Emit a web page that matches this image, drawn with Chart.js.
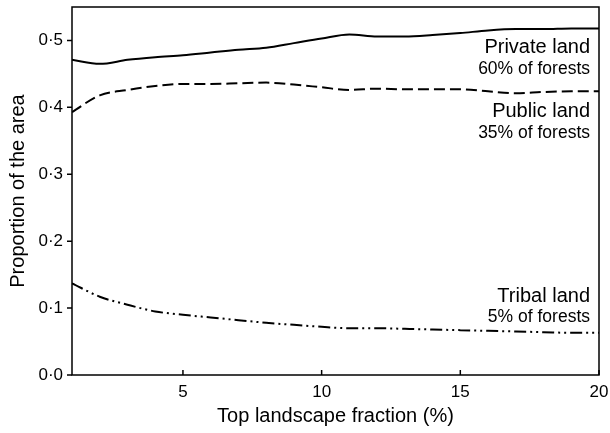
<!DOCTYPE html>
<html>
<head>
<meta charset="utf-8">
<script src="https://cdn.jsdelivr.net/npm/chart.js@4/dist/chart.umd.min.js"></script>
<style>
  html, body { margin: 0; padding: 0; background: #fff; }
  #wrap { width: 610px; height: 433px; }
</style>
</head>
<body>
<div id="wrap"><canvas id="chart" width="610" height="433"></canvas></div>
<script>
// values
const xValues = [1, 2, 3, 4, 5, 6, 7, 8, 9, 10, 11, 12, 13, 14, 15, 16, 17, 18, 19, 20];
const privateLand = [0.471, 0.465, 0.471, 0.475, 0.478, 0.482, 0.486, 0.489, 0.496, 0.503,
                     0.509, 0.506, 0.506, 0.508, 0.511, 0.515, 0.517, 0.517, 0.518, 0.518];
const publicLand = [0.393, 0.418, 0.426, 0.432, 0.435, 0.435, 0.436, 0.437, 0.434, 0.430,
                    0.426, 0.428, 0.427, 0.427, 0.427, 0.424, 0.421, 0.423, 0.424, 0.424];
const tribalLand = [0.137, 0.117, 0.105, 0.095, 0.090, 0.086, 0.082, 0.078, 0.075, 0.072,
                    0.070, 0.070, 0.069, 0.068, 0.067, 0.066, 0.065, 0.064, 0.063, 0.063];
const xTicks = [5, 10, 15, 20];
const yTicks = [0, 0.1, 0.2, 0.3, 0.4, 0.5];

const seriesNames = ['Private land', 'Public land', 'Tribal land'];
const seriesShares = ['60% of forests', '35% of forests', '5% of forests'];

const FONT = "'Liberation Sans', Arial, sans-serif";

function toPoints(ys) {
    return xValues.map((x, i) => ({ x: x, y: ys[i] }));
}

// frame, inward x ticks, outward y ticks and the line labels
const framePlugin = {
    id: 'frame',
    afterDraw(chart) {
        const { ctx, chartArea: a, scales } = chart;
        ctx.save();
        ctx.strokeStyle = '#000';
        ctx.lineWidth = 1.5;
        ctx.strokeRect(a.left, a.top, a.right - a.left, a.bottom - a.top);
        ctx.beginPath();
        xTicks.forEach(v => {
            const px = scales.x.getPixelForValue(v);
            ctx.moveTo(px, a.bottom);
            ctx.lineTo(px, a.bottom - 5);
        });
        yTicks.forEach(v => {
            const py = scales.y.getPixelForValue(v);
            ctx.moveTo(a.left, py);
            ctx.lineTo(a.left - 5, py);
        });
        ctx.stroke();

        ctx.fillStyle = '#000';
        ctx.textAlign = 'right';
        ctx.textBaseline = 'alphabetic';
        const right = a.right - 9;
        const nameY = [53, 117, 302];
        const shareY = [74, 138, 322];
        seriesNames.forEach((name, i) => {
            ctx.font = '20px ' + FONT;
            ctx.fillText(name, right, nameY[i]);
            ctx.font = '17.5px ' + FONT;
            ctx.fillText(seriesShares[i], right, shareY[i]);
        });
        ctx.restore();
    }
};

const lineStyle = {
    borderColor: '#000',
    borderWidth: 2,
    pointRadius: 0,
    fill: false,
    cubicInterpolationMode: 'monotone'
};

new Chart(document.getElementById('chart'), {
    type: 'line',
    data: {
        datasets: [
            Object.assign({ label: seriesNames[0], data: toPoints(privateLand) }, lineStyle),
            Object.assign({ label: seriesNames[1], data: toPoints(publicLand), borderDash: [11, 5] }, lineStyle),
            Object.assign({ label: seriesNames[2], data: toPoints(tribalLand), borderDash: [12, 4, 2, 4, 2, 4] }, lineStyle)
        ]
    },
    options: {
        responsive: false,
        animation: false,
        layout: { padding: { top: 7, right: 11, left: 0, bottom: 0 } },
        plugins: {
            legend: { display: false },
            tooltip: { enabled: false }
        },
        scales: {
            x: {
                type: 'linear',
                min: 1,
                max: 20,
                afterBuildTicks: scale => { scale.ticks = xTicks.map(v => ({ value: v })); },
                afterFit: scale => {
                    scale.height = 58;
                    scale.paddingLeft = 0;
                    scale.paddingRight = 0;
                },
                grid: { display: false, drawTicks: false },
                border: { display: false },
                ticks: {
                    color: '#000',
                    padding: 7,
                    maxRotation: 0,
                    font: { family: FONT, size: 17 }
                },
                title: {
                    display: true,
                    text: 'Top landscape fraction (%)',
                    color: '#000',
                    font: { family: FONT, size: 20 },
                    padding: { top: 0, bottom: 5 }
                }
            },
            y: {
                min: 0,
                max: 0.55,
                afterBuildTicks: scale => { scale.ticks = yTicks.map(v => ({ value: v })); },
                afterFit: scale => {
                    scale.width = 72;
                    scale.paddingTop = 0;
                    scale.paddingBottom = 0;
                },
                grid: { display: false, drawTicks: false },
                border: { display: false },
                ticks: {
                    color: '#000',
                    padding: 9,
                    font: { family: FONT, size: 17 },
                    callback: v => v.toFixed(1).replace('.', '\u00b7')
                },
                title: {
                    display: true,
                    text: 'Proportion of the area',
                    color: '#000',
                    font: { family: FONT, size: 20 },
                    padding: { top: 6, bottom: 0 }
                }
            }
        }
    },
    plugins: [framePlugin]
});
</script>
</body>
</html>
